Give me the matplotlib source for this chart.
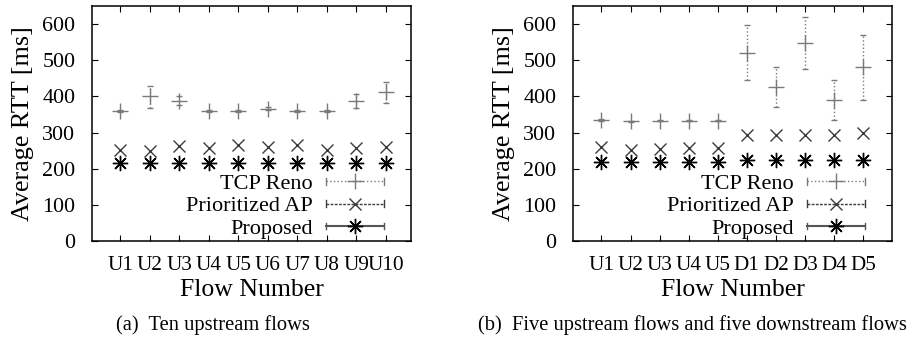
import matplotlib
matplotlib.use('Agg')
import matplotlib.pyplot as plt
from matplotlib.lines import Line2D
from matplotlib.legend_handler import HandlerLine2D
import numpy as np

plt.rcParams['font.family'] = ['Liberation Serif', 'DejaVu Serif']

# (a) ten upstream flows
flows_a = ['U1', 'U2', 'U3', 'U4', 'U5', 'U6', 'U7', 'U8', 'U9', 'U10']
reno_a = [359, 400, 388, 359, 360, 366, 359, 359, 388, 413]
reno_a_lo = [357, 369, 375, 357, 358, 361, 357, 357, 369, 381]
reno_a_hi = [361, 429, 401, 361, 362, 372, 361, 361, 407, 441]
prio_a = [252, 250, 263, 256, 265, 261, 265, 252, 256, 259]
prop_a = [217, 217, 217, 217, 217, 217, 217, 217, 217, 217]

# (b) five upstream and five downstream flows
flows_b = ['U1', 'U2', 'U3', 'U4', 'U5', 'D1', 'D2', 'D3', 'D4', 'D5']
reno_b = [335, 331, 333, 333, 333, 520, 426, 547, 390, 480]
reno_b_lo = [333, 329, 331, 331, 331, 444, 370, 475, 335, 390]
reno_b_hi = [337, 333, 335, 335, 335, 598, 481, 619, 446, 571]
prio_b = [260, 253, 254, 257, 256, 294, 292, 292, 292, 298]
prop_b = [219, 219, 219, 219, 219, 225, 225, 225, 225, 225]

captions = ['(a)  Ten upstream flows',
            '(b)  Five upstream flows and five downstream flows']

GRAY = '#7a7a7a'
DARK = '#3c3c3c'
ASTER = (8, 2, 0)


class CapHandler(HandlerLine2D):
    # gnuplot-style key sample: line with small end caps
    def create_artists(self, legend, orig_handle, xdescent, ydescent,
                       width, height, fontsize, trans):
        arts = super().create_artists(legend, orig_handle, xdescent, ydescent,
                                      width, height, fontsize, trans)
        y = height / 2 - ydescent
        for x in (-xdescent, width - xdescent):
            c = Line2D([x, x], [y - 2.5, y + 2.5], color=orig_handle.get_color(),
                       lw=1.0, transform=trans)
            arts.append(c)
        return arts


def panel(ax, labels, reno, lo, hi, prio, prop, xlim):
    x = np.arange(1, len(labels) + 1)
    reno = np.array(reno)
    err = [reno - np.array(lo), np.array(hi) - reno]
    eb = ax.errorbar(x, reno, yerr=err, fmt='none', ecolor=GRAY, elinewidth=1.0,
                     capsize=2, capthick=1.0)
    eb[2][0].set_linestyle(':')
    ax.plot(x, reno, ls='none', marker='+', ms=11, mew=1.0, color=GRAY)
    ax.plot(x, prio, ls='none', marker='x', ms=9, mew=1.0, color=DARK)
    ax.plot(x, prop, ls='none', marker=ASTER, ms=11, mew=1.0, color='black')

    ax.set_xlim(*xlim)
    ax.set_ylim(0, 650)
    ax.set_yticks([0, 100, 200, 300, 400, 500, 600])
    ax.set_xticks(x)
    ax.set_xticklabels(labels)
    ax.tick_params(direction='in', top=True, right=True, length=4, width=0.8,
                   labelsize=15.8)
    ax.tick_params(axis='x', labelsize=15.2, pad=11)
    ax.tick_params(axis='y', pad=12)
    for s in ax.spines.values():
        s.set_linewidth(1.1)

    ax.set_ylabel('Average RTT [ms]', fontsize=18.8, va='center')
    ax.yaxis.set_label_coords(-0.215, 0.5)
    ax.set_xlabel('Flow Number', fontsize=18.5, va='center')
    ax.xaxis.set_label_coords(0.5, -0.21)

    handles = [
        Line2D([], [], color=GRAY, ls=':', lw=1.0, marker='+', ms=11, mew=1.0),
        Line2D([], [], color=DARK, ls='--', lw=1.0, dashes=(2, 1), marker='x',
               ms=9, mew=1.0),
        Line2D([], [], color='#555555', ls='-', lw=1.5, marker=ASTER, ms=11,
               mew=1.0, mec='black', mfc='black'),
    ]
    ax.legend(handles, ['TCP Reno', 'Prioritized AP', 'Proposed'],
              loc='lower right', bbox_to_anchor=(0.922, 0.0), frameon=False,
              markerfirst=False, fontsize=16, handlelength=2.6, handletextpad=0.6,
              labelspacing=0.08, borderpad=0.0, borderaxespad=0.1,
              handler_map={Line2D: CapHandler()})


fig = plt.figure(figsize=(9.15, 3.4), dpi=100)
ax1 = fig.add_axes([92 / 915, 99 / 340, 319 / 915, 235 / 340])
ax2 = fig.add_axes([573 / 915, 99 / 340, 319 / 915, 235 / 340])

panel(ax1, flows_a, reno_a, reno_a_lo, reno_a_hi, prio_a, prop_a, (0.05, 10.85))
panel(ax2, flows_b, reno_b, reno_b_lo, reno_b_hi, prio_b, prop_b, (0.02, 11.0))

fig.text(213 / 915, 15 / 340, captions[0], ha='center', va='center', fontsize=14.8)
fig.text(692 / 915, 15 / 340, captions[1], ha='center', va='center', fontsize=14.8)

fig.savefig('out.png', dpi=100)
